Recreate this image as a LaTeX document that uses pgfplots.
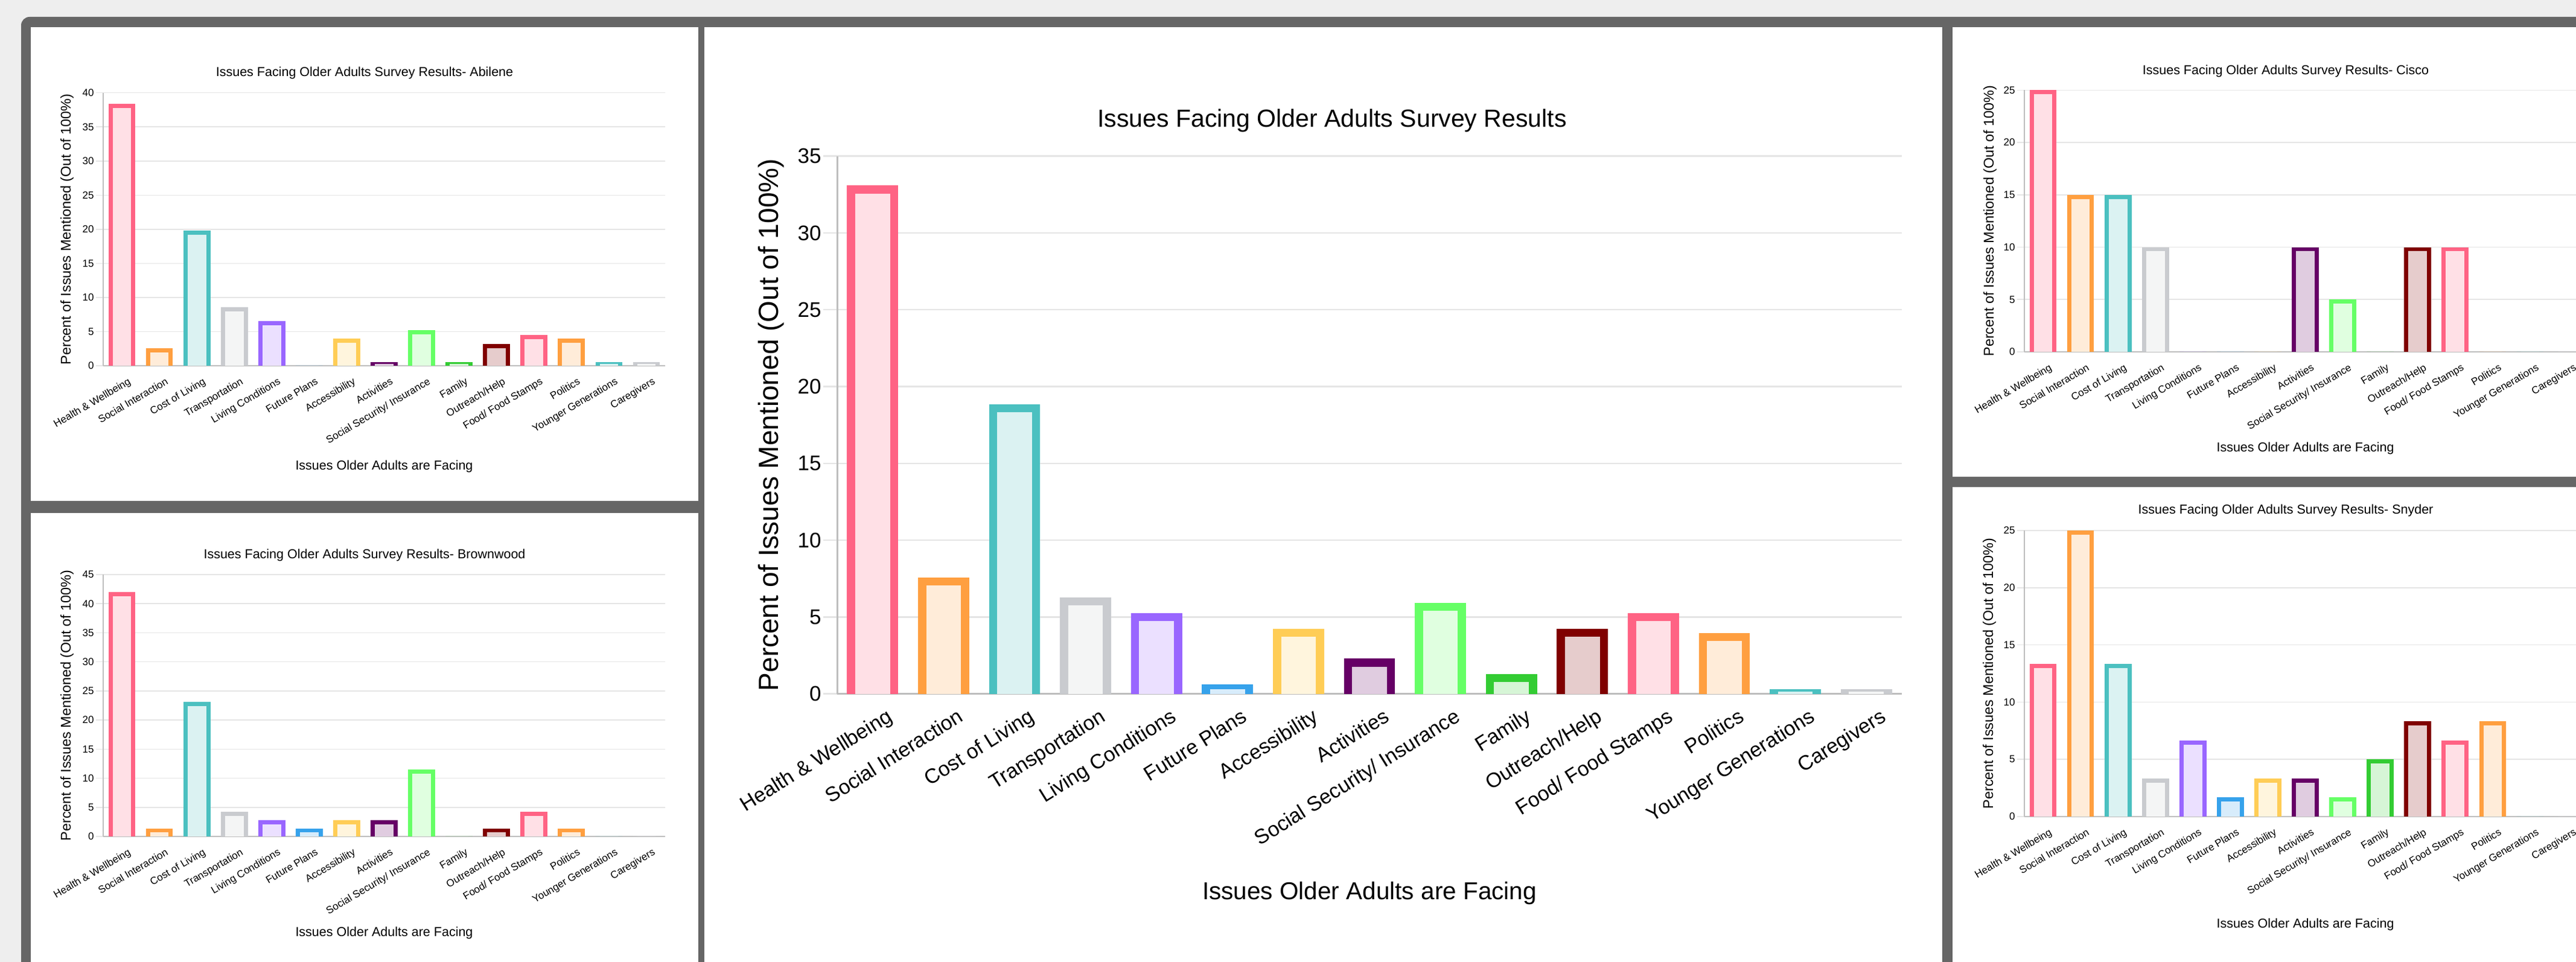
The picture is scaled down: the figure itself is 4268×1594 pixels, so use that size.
\documentclass[border=0pt]{standalone}
\usepackage{pgfplots}
\pgfplotsset{compat=1.18}
\usepackage{pgfplotstable}
\usepackage{fontspec}
\setmainfont{Liberation Sans}

% Chart.js-like palette, one colour per category
\definecolor{c0}{RGB}{255,99,132}
\definecolor{c1}{RGB}{255,159,64}
\definecolor{c2}{RGB}{75,192,192}
\definecolor{c3}{RGB}{201,203,207}
\definecolor{c4}{RGB}{153,102,255}
\definecolor{c5}{RGB}{54,162,235}
\definecolor{c6}{RGB}{255,205,86}
\definecolor{c7}{RGB}{102,0,102}
\definecolor{c8}{RGB}{102,255,102}
\definecolor{c9}{RGB}{51,204,51}
\definecolor{c10}{RGB}{128,0,0}
\definecolor{c11}{RGB}{255,99,132}
\definecolor{c12}{RGB}{255,159,64}
\definecolor{c13}{RGB}{75,192,192}
\definecolor{c14}{RGB}{201,203,207}
\definecolor{gridc}{RGB}{229,229,229}
\definecolor{axisc}{RGB}{190,190,190}
\definecolor{panelframe}{RGB}{102,102,102}
\definecolor{pagebg}{RGB}{238,238,238}

\newcommand\fsz[1]{\fontsize{#1}{#1}\selectfont}

% percent of issues mentioned, categories 0..14
\pgfplotstableread{
x v
0 38.4
1 2.6
2 19.85
3 8.55
4 6.56
5 0
6 3.94
7 0.56
8 5.23
9 0.56
10 3.2
11 4.5
12 3.94
13 0.56
14 0.56
}\abilene
\pgfplotstableread{
x v
0 41.96
1 1.38
2 23.07
3 4.28
4 2.8
5 1.38
6 2.8
7 2.8
8 11.5
9 0
10 1.38
11 4.28
12 1.38
13 0
14 0
}\brownwood
\pgfplotstableread{
x v
0 33.1
1 7.58
2 18.85
3 6.28
4 5.26
5 0.63
6 4.24
7 2.29
8 5.92
9 1.3
10 4.24
11 5.26
12 3.97
13 0.28
14 0.28
}\overall
\pgfplotstableread{
x v
0 25
1 15
2 15
3 10
4 0
5 0
6 0
7 10
8 5
9 0
10 10
11 10
12 0
13 0
14 0
}\cisco
\pgfplotstableread{
x v
0 13.33
1 25
2 13.33
3 3.33
4 6.67
5 1.67
6 3.33
7 3.33
8 1.67
9 5
10 8.33
11 6.67
12 8.33
13 0
14 0
}\snyder

% #1 table, #2 outer bar width, #3 inner bar width, #4 border in data units
\newcommand\issuebars[4]{%
  \pgfplotsinvokeforeach{0,...,14}{%
    \addplot[ybar, bar width=#2, bar shift=0pt, draw=none, fill=c##1,
      restrict x to domain=##1:##1] table[x=x, y=v] {#1};
    \addplot[ybar, bar width=#3, bar shift=0pt, draw=none, fill=c##1!20!white,
      restrict x to domain=##1:##1]
      table[x=x, y expr={max(\thisrow{v}-#4,\thisrow{v}/2)}] {#1};
  }}

\pgfplotsset{
  issues/.style={
    scale only axis, anchor=south west,
    xmin=-0.5, xmax=14.5, ymin=0,
    xtick={0,...,14},
    xticklabels={Health \& Wellbeing, Social Interaction, Cost of Living,
      Transportation, Living Conditions, Future Plans, Accessibility,
      Activities, Social Security/ Insurance, Family, Outreach/Help,
      Food/ Food Stamps, Politics, Younger Generations, Caregivers},
    axis lines*=left,
    ymajorgrids,
    tick align=outside,
    xtick style={draw=none},
    /pgf/number format/assume math mode=true,
    xlabel={Issues Older Adults are Facing},
    ylabel={Percent of Issues Mentioned (Out of 100\%)},
  },
  smallchart/.style={issues, width=931pt,
    title style={font=\fsz{21.5}, anchor=center, yshift=0pt,
      at={(axis description cs:0.4651,1.059)}},
    xlabel style={font=\fsz{21.5}, anchor=center,
      at={(axis description cs:0.5,-0.369)}},
    ylabel style={font=\fsz{23.4}, anchor=center,
      at={(axis description cs:-0.0644,0.5)}},
    yticklabel style={font=\fsz{17}},
    xticklabel style={font=\fsz{17}, rotate=30.5, anchor=north east,
      xshift=8pt, yshift=-7pt},
    major tick length=12pt,
    ytick style={draw=gridc, line width=1.5pt},
    grid style={draw=gridc, line width=1.5pt},
    axis line style={draw=axisc, line width=2pt},
  },
  bigchart/.style={issues, width=1764pt,
    title style={font=\fsz{41}, anchor=center, yshift=0pt,
      at={(axis description cs:0.4649,1.0592)}},
    xlabel style={font=\fsz{40.5}, anchor=center,
      at={(axis description cs:0.5,-0.3709)}},
    ylabel style={font=\fsz{46}, anchor=center,
      at={(axis description cs:-0.0618,0.5)}},
    yticklabel style={font=\fsz{35}},
    xticklabel style={font=\fsz{34}, rotate=32, anchor=north east,
      xshift=22pt, yshift=-7.5pt},
    major tick length=23pt,
    ytick style={draw=gridc, line width=2.5pt},
    grid style={draw=gridc, line width=2.5pt},
    axis line style={draw=axisc, line width=3pt},
  },
}

\begin{document}
\begin{tikzpicture}
\useasboundingbox (0,0) rectangle (4268pt,1594pt);
\clip (0,0) rectangle (4268pt,1594pt);

% dashboard frame
\fill[pagebg] (0,0) rectangle (4268pt,1594pt);
\fill[panelframe, rounded corners=14pt]
  (35pt,-40pt) -- (35pt,1566pt) -- (4320pt,1566pt) -- (4320pt,-40pt) -- cycle;
\fill[white] (51pt,764pt) rectangle (1157pt,1549pt);
\fill[white] (51pt,0pt) rectangle (1157pt,744pt);
\fill[white] (1167pt,0pt) rectangle (3218pt,1549pt);
\fill[white] (3235pt,804pt) rectangle (4268pt,1549pt);
\fill[white] (3235pt,0pt) rectangle (4268pt,787pt);

% Abilene
\begin{axis}[smallchart, at={(171pt,988pt)}, height=452.3pt,
  ymax=40, ytick={0,5,...,40},
  title={Issues Facing Older Adults Survey Results- Abilene}]
  \issuebars{\abilene}{44.7pt}{30.7pt}{0.619}
\end{axis}

% Brownwood
\begin{axis}[smallchart, at={(171pt,208pt)}, height=434pt,
  ymax=45, ytick={0,5,...,45},
  title={Issues Facing Older Adults Survey Results- Brownwood}]
  \issuebars{\brownwood}{44.7pt}{30.7pt}{0.726}
\end{axis}

% all responses
\begin{axis}[bigchart, at={(1387pt,444.4pt)}, height=890.9pt,
  ymax=35, ytick={0,5,...,35},
  title={Issues Facing Older Adults Survey Results}]
  \issuebars{\overall}{84.7pt}{57.7pt}{0.530}
\end{axis}

% Cisco
\begin{axis}[smallchart, at={(3354pt,1011pt)}, height=433.7pt,
  ymax=25, ytick={0,5,...,25},
  ylabel style={at={(axis description cs:-0.0612,0.5)}},
  title={Issues Facing Older Adults Survey Results- Cisco}]
  \issuebars{\cisco}{44.7pt}{30.7pt}{0.403}
\end{axis}

% Snyder
\begin{axis}[smallchart, at={(3354pt,241pt)}, height=474pt,
  ymax=25, ytick={0,5,...,25},
  ylabel style={at={(axis description cs:-0.0623,0.5)}},
  title style={at={(axis description cs:0.4651,1.057)}},
  xlabel style={at={(axis description cs:0.5,-0.378)}},
  title={Issues Facing Older Adults Survey Results- Snyder}]
  \issuebars{\snyder}{44.7pt}{30.7pt}{0.369}
\end{axis}
\end{tikzpicture}
\end{document}
